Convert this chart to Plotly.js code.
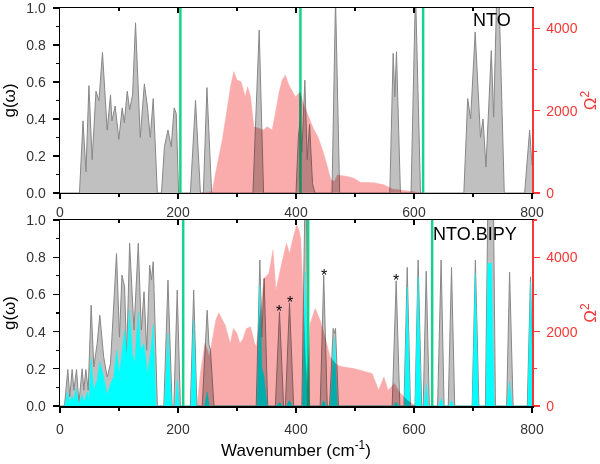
<!DOCTYPE html>
<html>
<head>
<meta charset="utf-8">
<script src="https://cdn.plot.ly/plotly-3.0.1.min.js"></script>
<style>
html,body{margin:0;padding:0;background:#fff;}
#chart{width:600px;height:464px;}
</style>
</head>
<body>
<div id="chart"></div>
<script>
// ---------- NTO (top panel) ----------
var ntoWave = [0, 33, 39, 44, 49, 54.5, 61, 66, 72, 80, 85.6, 88, 93.5, 99.7, 105.4, 109, 114, 118, 123, 128, 136, 143, 148, 153, 158, 165,
  172, 177, 183, 188.5, 193.5, 197, 201,
  221, 229.7, 238,
  243, 249, 257,
  327, 337.6, 345,
  400, 404, 407, 410, 415, 419, 423, 428, 432,
  461, 467, 474,
  559, 564.7, 567.5, 570.3, 577,
  595, 602.5, 611,
  684.5, 691, 696, 703.7, 712.7, 717, 722, 731, 735, 742, 753,
  787.5, 796, 800];
var ntoG = [0, 0, 0.39, 0.115, 0.58, 0.18, 0.55, 0.50, 0.76, 0.34, 0.53, 0.39, 0.47, 0.29, 0.46, 0.38, 0.55, 0.45, 0.53, 0.92, 0.30, 0.59, 0.47, 0.30, 0.51, 0,
  0, 0.25, 0.34, 0.25, 0.46, 0.43, 0,
  0, 0.50, 0,
  0, 0.57, 0,
  0, 0.88, 0,
  0, 0.30, 0.39, 0.22, 0.61, 0.18, 0.37, 0.05, 0,
  0, 1.05, 0,
  0, 0.755, 0.52, 0.764, 0,
  0, 1.1, 0,
  0, 0.51, 0.40, 0.87, 0.30, 0.40, 0.14, 0.77, 0.41, 1.3, 0,
  0, 0.34, 0.15];

var ntoOmegaWave = [238, 258, 263.6, 269, 275, 283, 289, 294.6, 300, 307, 314, 318, 323, 328.5, 337, 345, 351, 359.6, 365, 371, 376.6, 382, 388, 393.5, 399, 402, 406.5,
  413, 420, 430, 437, 445, 453, 459, 465, 470, 487, 498, 509, 532, 549, 563, 593, 615];
var ntoOmega2 = [0, 30, 479, 883, 1289, 2019, 2586, 2951, 2749, 2707, 2342, 2586, 2342, 1613, 1573, 1532, 1613, 1532, 1938, 2425, 2749, 2870, 2627, 2464, 2342, 2384, 2450,
  2150, 1900, 1550, 1370, 1050, 650, 330, 280, 440, 400, 360, 260, 250, 200, 100, 40, 0];

var ntoModes = [204, 407.5, 615.5];

// ---------- NTO.BIPY (bottom panel) ----------
var bipyWave = [0, 7.6, 13.2, 16.6, 20.6, 23.5, 28, 32, 37.6, 40.4, 43.8, 47.8, 52.8, 57.3, 63, 67.5, 74, 80, 85.6, 95.8, 100.8, 105, 109.5, 113, 118, 122.6, 125.4, 132.7, 137.8, 142.4, 147, 152, 155, 158, 165,
  176, 183, 190,
  193, 198.7, 204,
  221, 226.6, 232,
  241, 249.4, 252.5, 255, 261,
  332.6, 338.7, 342, 346, 352,
  365, 372, 379,
  382, 389, 396,
  410, 416, 423,
  441, 447, 453,
  457, 463, 465, 467, 472,
  563, 569.8, 576,
  583, 588.5, 594,
  601.7, 607, 613,
  615.6, 620.7, 626,
  640, 646, 651,
  658, 663.6, 669,
  698.6, 704, 710,
  721, 726, 730, 734, 738,
  757, 762, 768,
  792, 797.5, 800];
var bipyG = [0, 0, 0.196, 0.05, 0.196, 0.085, 0.196, 0.015, 0.2, 0.085, 0.196, 0.085, 0.542, 0.21, 0.336, 0.488, 0.264, 0.156, 0.228, 0.82, 0.37, 0.704, 0.64, 0.264, 0.875, 0.587, 0.408, 0.875, 0.408, 0.614, 0.30, 0.757, 0.677, 0.776, 0,
  0, 0.677, 0,
  0, 0.623, 0,
  0, 0.623, 0,
  0, 0.515, 0.33, 0.30, 0,
  0, 0.785, 0.37, 0.686, 0,
  0, 0.506, 0,
  0, 0.555, 0,
  0, 1.3, 0,
  0, 0.704, 0,
  0, 0.417, 0.39, 0.417, 0,
  0, 0.673, 0,
  0, 0.745, 0,
  0, 0.785, 0,
  0, 0.725, 0,
  0, 0.785, 0,
  0, 0.745, 0,
  0, 0.785, 0,
  0, 1.3, 1.1, 1.3, 0,
  0, 0.72, 0,
  0, 0.695, 0.3];

var bipyLigWave = [0, 8, 13, 16.6, 20.6, 23.5, 27, 32, 37.6, 41, 46, 49, 52.8, 57, 63, 67.5, 74, 80, 85.6, 91, 95.8, 100.8, 105.4, 109.5, 113, 118, 122.6, 126.6, 132.7, 136.6, 142.4, 148, 153.5, 158, 162.7,
  177, 183, 189,
  195, 198.7, 202,
  222, 226.6, 231,
  245, 249.4, 253,
  334, 338.7, 342, 346, 351,
  367, 372, 377,
  384, 389, 394,
  411, 416, 421,
  443, 447, 451,
  458, 465, 470,
  565, 569.8, 574,
  584, 588.5, 593,
  602, 607, 612,
  617, 620.7, 624,
  642, 646, 650,
  660, 663.6, 667,
  699, 704, 709,
  722, 725, 731, 736,
  758, 762, 766,
  793, 797.5, 800];
var bipyLigG = [0, 0, 0.075, 0.02, 0.054, 0.03, 0.094, 0.01, 0.06, 0.02, 0.075, 0.03, 0.255, 0.085, 0.138, 0.237, 0.156, 0.06, 0.12, 0.156, 0.30, 0.174, 0.30, 0.408, 0.264, 0.515, 0.282, 0.228, 0.506, 0.30, 0.336, 0.174, 0.282, 0.435, 0,
  0, 0.39, 0,
  0, 0.138, 0,
  0, 0.46, 0,
  0, 0.075, 0,
  0, 0.65, 0.21, 0.156, 0,
  0, 0.02, 0,
  0, 0.03, 0,
  0, 0.72, 0,
  0, 0.03, 0,
  0, 0.37, 0,
  0, 0.02, 0,
  0, 0.64, 0,
  0, 0.695, 0,
  0, 0.12, 0,
  0, 0.04, 0,
  0, 0.03, 0,
  0, 0.713, 0,
  0, 0.767, 0.767, 0,
  0, 0.13, 0,
  0, 0.668, 0.3];

var bipyOmegaWave = [232.5, 238, 245.5, 250, 253, 258.6, 264, 269, 275, 280, 288.5, 294, 300, 305, 310, 316, 323, 330, 333, 340, 345.7, 354, 361, 366, 371, 377, 384, 389, 395, 401, 405, 408, 412, 416, 419,
  424, 432.6, 441, 449, 458, 469.5, 481, 498, 520, 529, 540, 549, 556, 567, 575, 589, 603];
var bipyOmega2 = [0, 872, 1680, 1500, 1319, 1858, 2307, 2504, 2307, 2173, 1680, 2084, 1950, 1680, 1800, 2084, 2130, 1680, 1600, 2600, 3430, 3565, 4192, 3115, 3500, 3923, 4373, 4100, 4507, 4865, 4731, 4500, 3000, 1200, 512,
  2218, 2622, 2307, 1858, 1319, 1096, 1050, 1007, 915, 872, 423, 781, 423, 603, 377, 150, 0];

var bipyModes = [208.8, 420.6, 630.8];

var starWave = [372, 389, 447, 569.8];
var starG = [0.506, 0.555, 0.704, 0.673];

var panelLabels = ['NTO', 'NTO.BIPY'];

// ---------- styles ----------
var GRAY_FILL = 'rgb(192,192,192)';
var GRAY_LINE = 'rgb(135,135,135)';
var RED_FILL = 'rgb(250,172,172)';
var CYAN = 'rgb(0,255,255)';
var GREEN = 'rgb(20,212,140)';
var AXRED = 'rgb(245,55,55)';
var FONT = 'Liberation Sans, Arial, sans-serif';

function modeLines(modes, xa, ya) {
  return modes.map(function (m) {
    return {x: [m, m], y: [0, 1], xaxis: xa, yaxis: ya, mode: 'lines',
      line: {color: GREEN, width: 2.5}, hoverinfo: 'skip', showlegend: false};
  });
}

var traces = [];
// top panel
traces.push({x: ntoWave, y: ntoG, xaxis: 'x', yaxis: 'y', mode: 'lines', fill: 'tozeroy',
  fillcolor: GRAY_FILL, line: {color: GRAY_LINE, width: 1}, showlegend: false});
traces = traces.concat(modeLines(ntoModes, 'x', 'y'));
traces.push({x: ntoOmegaWave, y: ntoOmega2, xaxis: 'x', yaxis: 'y2', mode: 'lines', fill: 'tozeroy',
  fillcolor: RED_FILL, line: {color: RED_FILL, width: 0.5}, showlegend: false, name: 'omegaTop'});
// bottom panel
traces.push({x: bipyWave, y: bipyG, xaxis: 'x2', yaxis: 'y3', mode: 'lines', fill: 'tozeroy',
  fillcolor: GRAY_FILL, line: {color: GRAY_LINE, width: 1}, showlegend: false});
traces.push({x: bipyLigWave, y: bipyLigG, xaxis: 'x2', yaxis: 'y3', mode: 'lines', fill: 'tozeroy',
  fillcolor: CYAN, line: {color: CYAN, width: 0.5}, showlegend: false});
traces = traces.concat(modeLines(bipyModes, 'x2', 'y3'));
traces.push({x: bipyOmegaWave, y: bipyOmega2, xaxis: 'x2', yaxis: 'y4', mode: 'lines', fill: 'tozeroy',
  fillcolor: RED_FILL, line: {color: RED_FILL, width: 0.5}, showlegend: false, name: 'omegaBot'});
// helper empty traces for top-frame tick axes
traces.push({x: [], y: [], xaxis: 'x3', yaxis: 'y', showlegend: false});
traces.push({x: [], y: [], xaxis: 'x4', yaxis: 'y3', showlegend: false});

var tickFont = {family: FONT, size: 14, color: '#333'};
function xAxis(anchor, standoff, title) {
  var a = {anchor: anchor, range: [0, 800], dtick: 200, tick0: 0, ticks: 'outside', ticklen: 5, tickwidth: 1.2,
    tickcolor: '#000', minor: {dtick: 100, ticks: 'outside', ticklen: 3, tickcolor: '#000'},
    showline: true, linecolor: '#000', linewidth: 1.5, showgrid: false, zeroline: false,
    tickfont: tickFont, ticklabelstandoff: standoff, ticklabeloverflow: 'allow'};
  if (title) a.title = {text: title, font: {family: FONT, size: 17, color: '#000'}, standoff: 8};
  return a;
}
function topFrame(overlay, anchor) {
  return {overlaying: overlay, anchor: anchor, side: 'top', range: [0, 800], dtick: 200, tick0: 0,
    ticks: 'inside', ticklen: 5, tickwidth: 1.2, tickcolor: '#000',
    minor: {dtick: 100, ticks: 'inside', ticklen: 3, tickcolor: '#000'},
    showline: true, linecolor: '#000', linewidth: 1.5, showgrid: false, zeroline: false, showticklabels: false};
}
function yLeft(domain, anchor) {
  return {domain: domain, anchor: anchor, range: [0, 1], dtick: 0.2, tick0: 0, tickformat: '.1f',
    tickvals: [0, 0.2, 0.4, 0.6, 0.8, 1.0],
    ticks: 'outside', ticklen: 6, tickwidth: 1.2, tickcolor: '#000',
    minor: {tickvals: [0.1, 0.3, 0.5, 0.7, 0.9], ticks: 'outside', ticklen: 3, tickcolor: '#000'},
    showline: true, linecolor: '#000', linewidth: 1.5, showgrid: false, zeroline: false,
    tickfont: tickFont, ticklabelstandoff: 4, ticklabeloverflow: 'allow',
    title: {text: 'g(\u03c9)', font: {family: FONT, size: 17, color: '#000'}, standoff: 6}};
}
function yRight(overlay, anchor, max) {
  return {overlaying: overlay, anchor: anchor, side: 'right', range: [0, max], dtick: 2000, tick0: 0,
    ticks: 'outside', ticklen: 6, tickwidth: 1.2, tickcolor: AXRED,
    minor: {dtick: 1000, ticks: 'outside', ticklen: 3, tickcolor: AXRED},
    showline: true, linecolor: AXRED, linewidth: 1.5, showgrid: false, zeroline: false,
    tickfont: {family: FONT, size: 14, color: AXRED}, ticklabelstandoff: 4, ticklabeloverflow: 'allow',
    title: {text: '\u03a9<sup>2</sup>', font: {family: FONT, size: 17, color: AXRED}, standoff: 8}};
}

var layout = {
  width: 600, height: 464,
  margin: {l: 60, r: 68, t: 8, b: 58},
  paper_bgcolor: '#fff', plot_bgcolor: 'rgba(0,0,0,0)',
  showlegend: false,
  xaxis: xAxis('y', 1),
  xaxis2: xAxis('y3', 5, 'Wavenumber (cm<sup>-1</sup>)'),
  xaxis3: topFrame('x', 'y'),
  xaxis4: topFrame('x2', 'y3'),
  yaxis: yLeft([0.5352, 1], 'x'),
  yaxis2: yRight('y', 'x', 4500),
  yaxis3: yLeft([0, 0.4673], 'x2'),
  yaxis4: yRight('y3', 'x2', 5000),
  annotations: [
    {xref: 'x', yref: 'y', x: 733, y: 0.935, text: panelLabels[0], showarrow: false,
      font: {family: FONT, size: 18, color: '#000'}},
    {xref: 'x2', yref: 'y3', x: 704, y: 0.927, text: panelLabels[1], showarrow: false,
      font: {family: FONT, size: 18, color: '#000'}}
  ].concat(starWave.map(function (w, i) {
    return {xref: 'x2', yref: 'y3', x: w, y: starG[i], text: '*', showarrow: false,
      yanchor: 'middle', yshift: 0, font: {family: FONT, size: 16, color: '#000'}};
  }))
};

Plotly.newPlot('chart', traces, layout, {staticPlot: true}).then(function (gd) {
  // multiply-blend the red Omega^2 areas over the g(omega) areas
  var fills = gd.querySelectorAll('path.js-fill');
  var grayFills = [], redFills = [];
  fills.forEach(function (p) {
    var f = p.style.fill.replace(/\s/g, '');
    if (f === 'rgb(250,172,172)') redFills.push(p);
    else if (f === 'rgb(192,192,192)') grayFills.push(p);
  });
  redFills.forEach(function (rp) {
    var el = rp;
    while (el && el.parentNode && !grayFills.some(function (g) { return el.parentNode.contains(g); })) {
      el.style.mixBlendMode = 'multiply';
      el = el.parentNode;
      if (el.tagName && el.tagName.toLowerCase() === 'svg') break;
    }
    if (el && el.style) el.style.mixBlendMode = 'multiply';
  });
});
</script>
</body>
</html>
